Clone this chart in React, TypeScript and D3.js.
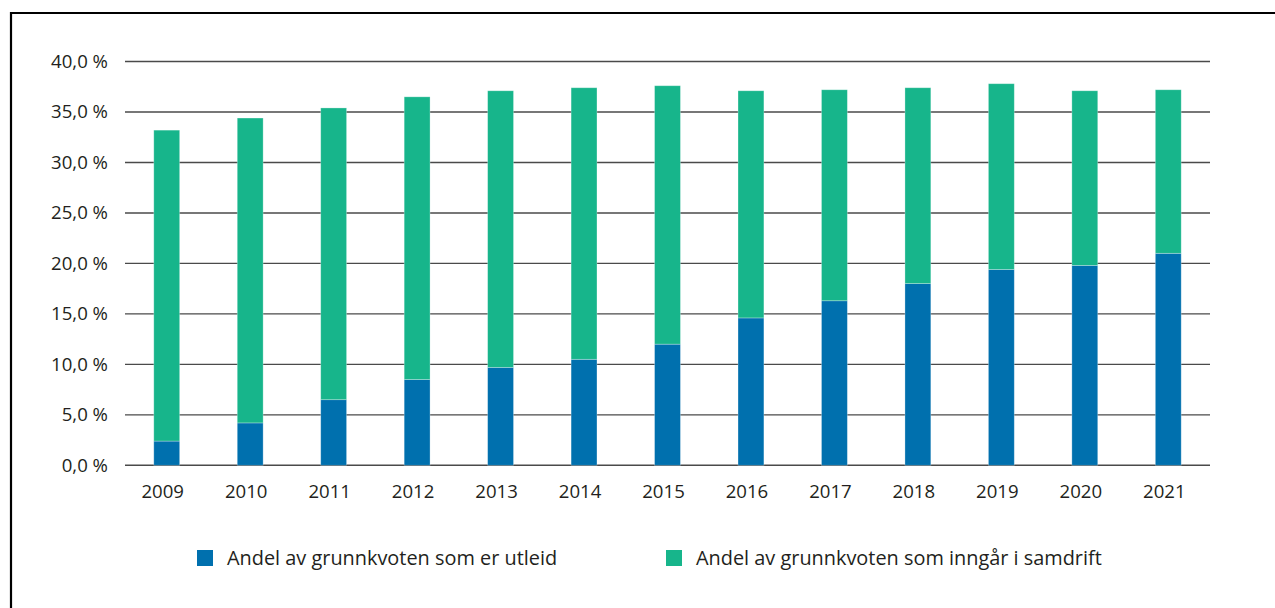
import { useEffect, useRef } from 'react';
import * as d3 from 'd3';

const years = ['2009', '2010', '2011', '2012', '2013', '2014', '2015', '2016', '2017', '2018', '2019', '2020', '2021'];
// share leased out (blue), in % of base quota
const utleid = [2.4, 4.2, 6.5, 8.5, 9.7, 10.5, 12.0, 14.6, 16.3, 18.0, 19.4, 19.8, 21.0];
// total height of stacked bar, in %
const totalHeights = [33.2, 34.4, 35.4, 36.5, 37.1, 37.4, 37.6, 37.1, 37.2, 37.4, 37.8, 37.1, 37.2];
const yTicks = [0, 5, 10, 15, 20, 25, 30, 35, 40];
const seriesNames = ['Andel av grunnkvoten som er utleid', 'Andel av grunnkvoten som inngår i samdrift'];
const colors = ['#0070ae', '#17b58b'];

const W = 1275;
const H = 608;
const font = '"Open Sans", sans-serif';

const App = () => {
    const svgRef = useRef<SVGSVGElement>(null);

    useEffect(() => {
        const svg = d3.select(svgRef.current);
        svg.selectAll('*').remove();

        const left = 125, right = 1210, top = 61.5, bottom = 465.3;

        const x = d3.scaleBand().domain(years).range([left, right]).paddingInner(0.69).paddingOuter(0.345);
        const y = d3.scaleLinear().domain([0, 40]).range([bottom, top]);

        // frame
        svg.append('path')
            .attr('d', `M11,${H + 5} L11,13 L${W + 5},13`)
            .attr('fill', 'none')
            .attr('stroke', '#000')
            .attr('stroke-width', 2.2);

        // grid
        svg.append('g').selectAll('line')
            .data(yTicks)
            .join('line')
            .attr('x1', left).attr('x2', right)
            .attr('y1', d => y(d)).attr('y2', d => y(d))
            .attr('stroke', '#4a4a4a')
            .attr('stroke-width', 1.4);

        svg.append('g').selectAll('text')
            .data(yTicks)
            .join('text')
            .attr('x', 108)
            .attr('y', d => y(d))
            .attr('dy', '0.35em')
            .attr('text-anchor', 'end')
            .attr('font-family', font)
            .attr('font-size', 18.6)
            .attr('fill', '#231f20')
            .text(d => `${d.toFixed(1).replace('.', ',')} %`);

        const rows = years.map((yr, i) => ({ year: yr, utleid: utleid[i], samdrift: totalHeights[i] - utleid[i] }));
        const stack = d3.stack<any>().keys(['utleid', 'samdrift'])(rows);

        svg.append('g').selectAll('g')
            .data(stack)
            .join('g')
            .attr('fill', (_, i) => colors[i])
            .selectAll('rect')
            .data(d => d)
            .join('rect')
            .attr('x', d => x(d.data.year)!)
            .attr('width', x.bandwidth())
            .attr('y', d => y(d[1]))
            .attr('height', d => y(d[0]) - y(d[1]))
            .attr('stroke', '#ffffff')
            .attr('stroke-opacity', 0.35)
            .attr('stroke-width', 0.8);

        svg.append('g').selectAll('text')
            .data(years)
            .join('text')
            .attr('x', d => x(d)! + x.bandwidth() / 2 - 4)
            .attr('y', 498)
            .attr('text-anchor', 'middle')
            .attr('font-family', font)
            .attr('font-size', 18.6)
            .attr('fill', '#231f20')
            .text(d => d);

        // legend
        const legendX = [197, 666];
        const lg = svg.append('g').selectAll('g')
            .data(seriesNames)
            .join('g')
            .attr('transform', (_, i) => `translate(${legendX[i]},550)`);
        lg.append('rect')
            .attr('width', 16).attr('height', 16)
            .attr('fill', (_, i) => colors[i]);
        lg.append('text')
            .attr('x', 30)
            .attr('y', 8)
            .attr('dy', '0.35em')
            .attr('font-family', font)
            .attr('font-size', 19.9)
            .attr('fill', '#231f20')
            .text(d => d);
    }, []);

    return (
        <svg ref={svgRef} width={W} height={H}
            style={{ position: 'absolute', left: 0, top: 0, display: 'block', background: '#fff' }} />
    );
};

export default App;
